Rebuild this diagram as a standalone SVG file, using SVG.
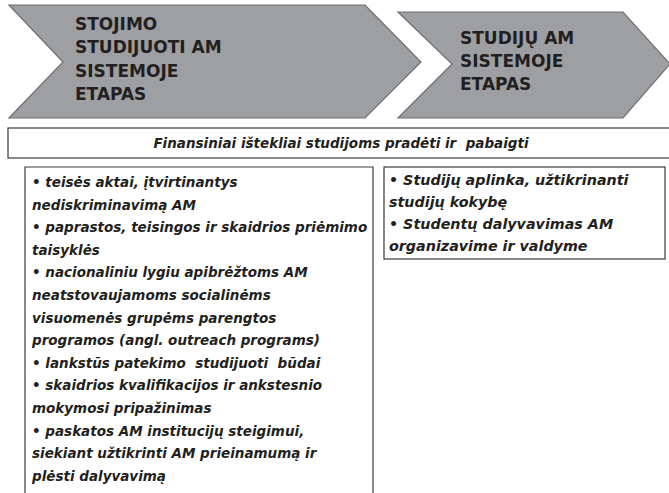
<svg xmlns="http://www.w3.org/2000/svg" width="669" height="493" viewBox="0 0 669 493" xml:space="preserve">
<style>
.arrow{fill:#9d9fa2;stroke:#6d6e71;stroke-width:1.2}
.box{fill:#ffffff;stroke:#3a3a3a;stroke-width:1.2}
.title{font-family:"DejaVu Sans",sans-serif;font-weight:bold;font-size:17px;fill:#231f20}
.body{font-family:"DejaVu Sans",sans-serif;font-weight:bold;font-style:italic;font-size:13.5px;fill:#231f20;white-space:pre}
.body2{font-family:"DejaVu Sans",sans-serif;font-weight:bold;font-style:italic;font-size:14.3px;fill:#231f20}
</style>
<rect width="669" height="493" fill="#ffffff"/>
<g id="stage1">
<polygon class="arrow" points="9,5 365,5 421,62 365,118 9,118 63,62"/>
<text class="title" x="75" y="30">STOJIMO</text>
<text class="title" x="75" y="53">STUDIJUOTI AM</text>
<text class="title" x="75" y="77">SISTEMOJE</text>
<text class="title" x="75" y="100">ETAPAS</text>
</g>
<g id="stage2">
<polygon class="arrow" points="398,12 623,12 670,64 623,118 398,118 452,64"/>
<text class="title" x="460" y="44">STUDIJŲ AM</text>
<text class="title" x="460" y="67">SISTEMOJE</text>
<text class="title" x="460" y="90">ETAPAS</text>
</g>
<g id="finance">
<rect class="box" x="8" y="128" width="670" height="30"/>
<text class="body" x="341" y="148" text-anchor="middle">Finansiniai ištekliai studijoms pradėti ir  pabaigti</text>
</g>
<g id="admission-list">
<path class="box" d="M25,500 V167 H373 V500"/>
<text class="body" x="32" y="187">• teisės aktai, įtvirtinantys</text>
<text class="body" x="32" y="209.6">nediskriminavimą AM</text>
<text class="body" x="32" y="232.2">• paprastos, teisingos ir skaidrios priėmimo</text>
<text class="body" x="32" y="254.8">taisyklės</text>
<text class="body" x="32" y="277.4">• nacionaliniu lygiu apibrėžtoms AM</text>
<text class="body" x="32" y="300">neatstovaujamoms socialinėms</text>
<text class="body" x="32" y="322.6">visuomenės grupėms parengtos</text>
<text class="body" x="32" y="345.2">programos (angl. outreach programs)</text>
<text class="body" x="32" y="367.8">• lankstūs patekimo  studijuoti  būdai</text>
<text class="body" x="32" y="390.4">• skaidrios kvalifikacijos ir ankstesnio</text>
<text class="body" x="32" y="413">mokymosi pripažinimas</text>
<text class="body" x="32" y="435.6">• paskatos AM institucijų steigimui,</text>
<text class="body" x="32" y="458.2">siekiant užtikrinti AM prieinamumą ir</text>
<text class="body" x="32" y="480.8">plėsti dalyvavimą</text>
</g>
<g id="studies-list">
<rect class="box" x="384" y="167" width="281" height="92"/>
<text class="body2" x="389" y="185">• Studijų aplinka, užtikrinanti</text>
<text class="body2" x="389" y="207">studijų kokybę</text>
<text class="body2" x="389" y="229">• Studentų dalyvavimas AM</text>
<text class="body2" x="389" y="251">organizavime ir valdyme</text>
</g>
<g id="connectors"></g>
</svg>
